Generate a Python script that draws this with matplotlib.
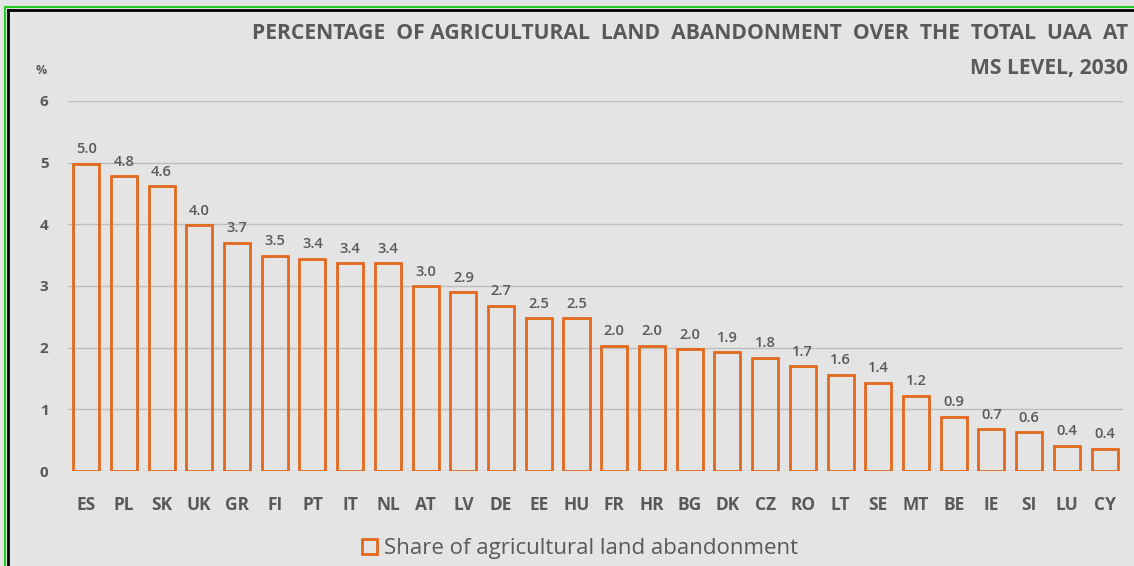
import matplotlib
matplotlib.use("Agg")
import matplotlib.pyplot as plt
from matplotlib.lines import Line2D
from matplotlib.patches import Rectangle

countries = ["ES", "PL", "SK", "UK", "GR", "FI", "PT", "IT", "NL", "AT", "LV", "DE", "EE", "HU",
             "FR", "HR", "BG", "DK", "CZ", "RO", "LT", "SE", "MT", "BE", "IE", "SI", "LU", "CY"]
shares = [4.98, 4.78, 4.62, 3.99, 3.70, 3.49, 3.44, 3.37, 3.37, 3.00, 2.90, 2.68, 2.48, 2.48,
          2.03, 2.03, 1.98, 1.93, 1.84, 1.70, 1.56, 1.43, 1.22, 0.88, 0.68, 0.63, 0.41, 0.36]
yticks = [0, 1, 2, 3, 4, 5, 6]

title = "PERCENTAGE  OF AGRICULTURAL  LAND  ABANDONMENT  OVER  THE  TOTAL  UAA  AT\nMS LEVEL, 2030"
legend_label = "Share of agricultural land abandonment"

BG = "#e4e4e4"
ORANGE = "#e2691c"
TXT = "#595959"
GRID = "#bdbdbd"

plt.rcParams['font.family'] = ['Open Sans', 'DejaVu Sans']

fig = plt.figure(figsize=(11.34, 5.66), dpi=100, facecolor=BG)
ax = fig.add_axes([0.060, 0.1678, 0.930, 0.6538])
ax.set_facecolor(BG)

x = list(range(len(countries)))
ax.bar(x, shares, width=0.69, facecolor="none", edgecolor=ORANGE, linewidth=2.0,
       label=legend_label, zorder=3)

for xi, v in zip(x, shares):
    ax.text(xi, v + 0.12, f"{v:.1f}", ha="center", va="bottom", fontsize=10.5,
            color=TXT, fontweight="semibold")

ax.set_xlim(-0.48, len(countries) - 0.52)
ax.set_ylim(0, 6)
ax.set_yticks(yticks)
ax.set_yticklabels([str(t) for t in yticks], fontsize=11, color=TXT, fontweight="bold")
ax.set_xticks(x)
ax.set_xticklabels(countries, fontsize=12.5, color=TXT, fontweight="bold")
ax.tick_params(axis="both", length=0)
ax.tick_params(axis="y", pad=14)
ax.tick_params(axis="x", pad=18)
ax.yaxis.grid(True, color=GRID, linewidth=1.0, zorder=0)
ax.set_axisbelow(True)
for s in ax.spines.values():
    s.set_visible(False)

fig.text(41 / 1134, 1 - 70 / 566, "%", fontsize=9, color=TXT, fontweight="bold",
         ha="center", va="center")

fig.text(1128 / 1134, 1 - 23 / 566, title, ha="right", va="top", fontsize=15.2,
         color=TXT, fontweight="bold", linespacing=1.85)

leg = ax.legend(handles=[Rectangle((0, 0), 1, 1, facecolor="none", edgecolor=ORANGE, linewidth=2.0)],
                labels=[legend_label], loc="center", bbox_to_anchor=(0.4855, -0.21),
                frameon=False, fontsize=16, handlelength=0.7, handleheight=0.7,
                handletextpad=0.3, borderaxespad=0)
for t in leg.get_texts():
    t.set_color(TXT)

W, H = 1134, 566
fig.add_artist(Line2D([5 / W, 1], [1 - 7 / H, 1 - 7 / H], color="#22cc22", linewidth=1.5,
                      transform=fig.transFigure))
fig.add_artist(Line2D([5 / W, 5 / W], [0, 1 - 7 / H], color="#22cc22", linewidth=1.5,
                      transform=fig.transFigure))
fig.add_artist(Line2D([8 / W, 1], [1 - 9.5 / H, 1 - 9.5 / H], color="black", linewidth=2,
                      transform=fig.transFigure))
fig.add_artist(Line2D([8 / W, 8 / W], [0, 1 - 9.5 / H], color="black", linewidth=2,
                      transform=fig.transFigure))

fig.savefig("out.png", dpi=100, facecolor=BG)
